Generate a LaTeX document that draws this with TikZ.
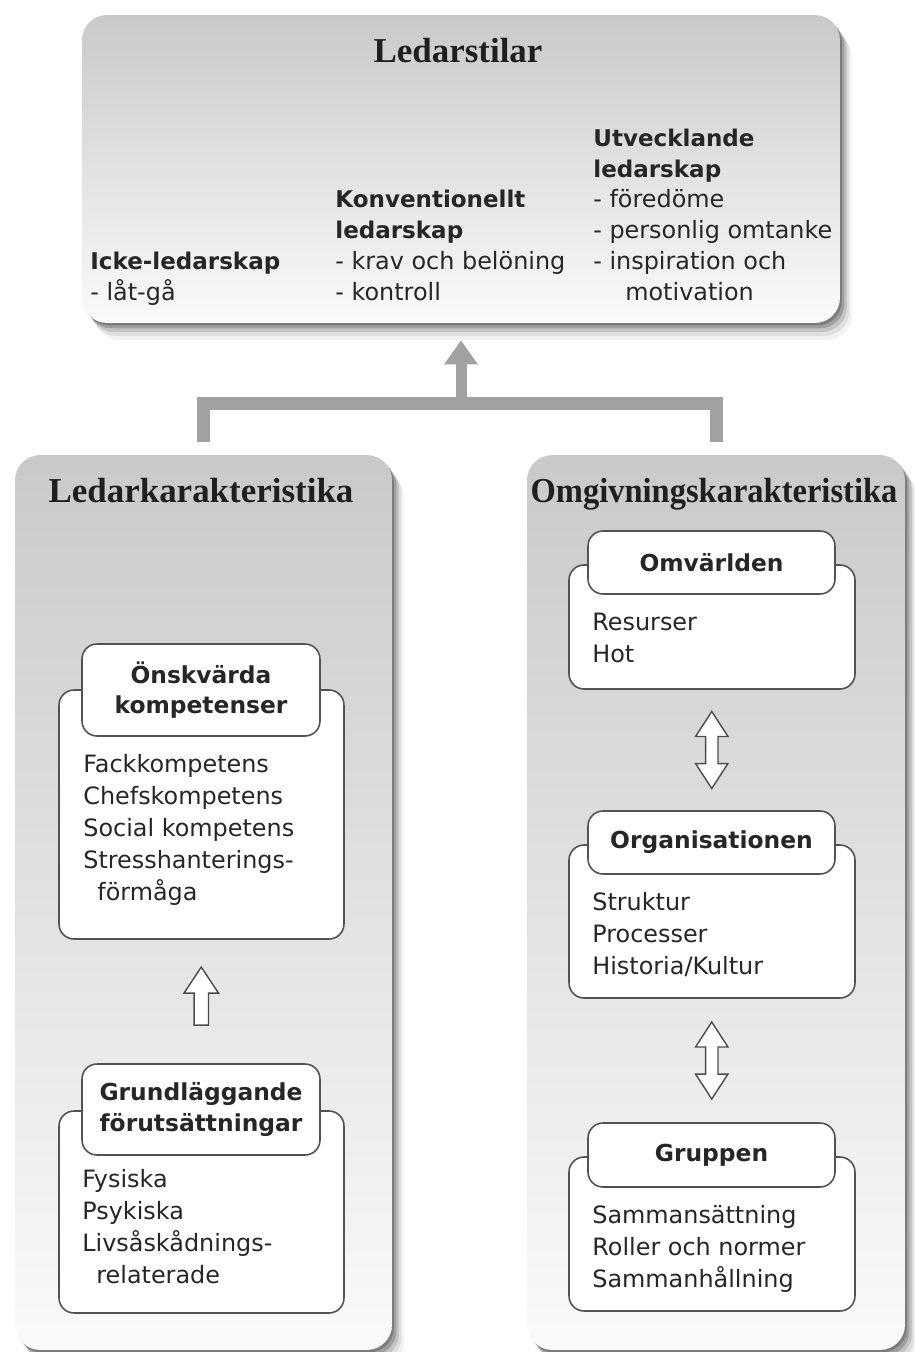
\documentclass[tikz,border=0pt]{standalone}
\usepackage{fontspec}
\setmainfont{Liberation Serif}
\newfontfamily\dejav{DejaVu Sans}
\usetikzlibrary{shapes.arrows,shadows,calc,arrows.meta}

\newcommand\hdfont{\bfseries\fontsize{13.1}{17.5}\selectfont}

\tikzset{
  softshadow/.style={
    general shadow={fill=black,opacity=.22,shadow xshift=0.04cm,shadow yshift=-0.05cm},
    general shadow={fill=black,opacity=.18,shadow xshift=0.09cm,shadow yshift=-0.11cm},
    general shadow={fill=black,opacity=.13,shadow xshift=0.14cm,shadow yshift=-0.18cm},
    general shadow={fill=black,opacity=.08,shadow xshift=0.19cm,shadow yshift=-0.26cm},
    general shadow={fill=black,opacity=.05,shadow xshift=0.24cm,shadow yshift=-0.34cm}},
  panel/.style={softshadow, rounded corners=0.5cm, top color=black!21, bottom color=black!2, inner sep=0},
  ibox/.style={draw=black!68, line width=0.9pt, fill=white, rounded corners=0.3cm, inner sep=0},
  itab/.style={ibox, align=center, text=black!85, font=\dejav\bfseries\fontsize{13.3}{17.2}\selectfont},
  bodytxt/.style={anchor=base west, align=left, inner sep=0, text=black!85, font=\dejav\fontsize{13.6}{18.2}\selectfont},
  toptxt/.style={bodytxt, font=\dejav\fontsize{13.6}{17.5}\selectfont},
  titletxt/.style={anchor=base, inner sep=0, text=black!88, font=\bfseries\fontsize{19.9}{24}\selectfont},
  bracket/.style={draw=black!37, line width=0.26cm},
  hollowup/.style={single arrow, rotate=90, draw=black!70, line width=0.8pt, fill=white,
    inner xsep=0, inner ysep=0.13cm, minimum height=1.16cm,
    single arrow head extend=0.2cm, single arrow tip angle=67},
  hollowdbl/.style={double arrow, rotate=90, draw=black!70, line width=0.8pt, fill=white,
    inner xsep=0, inner ysep=0.11cm, minimum height=1.54cm,
    double arrow head extend=0.2cm, double arrow tip angle=66}
}

\begin{document}
\begin{tikzpicture}[x=0.02cm,y=-0.02cm]
  \useasboundingbox (0,0) rectangle (914,1352);
  \clip (0,0) rectangle (914,1352);

  % top: ledarstilar (text nodes sit on their last baseline)
  \node[panel, minimum width=15.16cm, minimum height=6.16cm] (stilar) at (461,169) {};
  \node[titletxt] at (458,62) {Ledarstilar};
  \node[toptxt] (icke) at (90,300) {{\hdfont Icke-ledarskap}\\- låt-gå};
  \node[toptxt] (konv) at (335,300) {{\hdfont Konventionellt}\\{\hdfont ledarskap}\\- krav och belöning\\- kontroll};
  \node[toptxt] (utv) at (593,300) {{\hdfont Utvecklande}\\{\hdfont ledarskap}\\- föredöme\\- personlig omtanke\\- inspiration och\\\hspace*{0.64cm}motivation};

  % connector up to ledarstilar
  \coordinate (join) at (stilar.south |- 0,403);
  \draw[bracket] ([yshift=0.26cm]203.5,455) |- (join) -| ([yshift=0.26cm]716,455);
  \draw[bracket, line width=0.22cm, -{Triangle[width=0.64cm,length=0.48cm]}] (join) -- ([yshift=-0.34cm]stilar.south);

  % bottom panels
  \node[panel, minimum width=7.54cm, minimum height=17.9cm] (ledkar) at (203.5,902.5) {};
  \node[panel, minimum width=7.56cm, minimum height=17.9cm] (omgkar) at (716,902.5) {};
  \node[titletxt] at (201,502) {Ledarkarakteristika};
  \node[titletxt] at (714,502) {\scalebox{0.93}[1]{Omgivningskarakteristika}};

  % left column
  \node[ibox, minimum width=5.7cm, minimum height=4.98cm] (komp) at (201.5,814.5) {};
  \node[itab, minimum width=4.76cm, minimum height=1.84cm] (komptab) at (201,690) {Önskvärda\\kompetenser};
  \node[bodytxt] (kompl) at (83,900) {Fackkompetens\\Chefskompetens\\Social kompetens\\Stresshanterings-\\\hspace*{0.28cm}förmåga};
  \node[ibox, minimum width=5.7cm, minimum height=4.04cm] (grund) at (201.5,1212) {};
  \node[itab, minimum width=4.76cm, minimum height=1.82cm] (grundtab) at (201,1109.5) {Grundläggande\\förutsättningar};
  \node[bodytxt] (grundl) at (82,1283) {Fysiska\\Psykiska\\Livsåskådnings-\\\hspace*{0.28cm}relaterade};
  \node[hollowup] (upp) at ($(komp.south)!0.5!(grundtab.north)$) {};

  % right column
  \node[ibox, minimum width=5.72cm, minimum height=2.48cm] (omv) at (712,627) {};
  \node[itab, minimum width=4.94cm, minimum height=1.26cm] (omvtab) at (711.5,562.5) {Omvärlden};
  \node[bodytxt] (omvl) at (592,662) {Resurser\\Hot};
  \node[ibox, minimum width=5.72cm, minimum height=3.06cm] (org) at (712,921.5) {};
  \node[itab, minimum width=4.94cm, minimum height=1.26cm] (orgtab) at (711.5,842.5) {Organisationen};
  \node[bodytxt] (orgl) at (592,974) {Struktur\\Processer\\Historia/Kultur};
  \node[ibox, minimum width=5.72cm, minimum height=3.08cm] (grp) at (712,1234) {};
  \node[itab, minimum width=4.94cm, minimum height=1.28cm] (grptab) at (711.5,1155) {Gruppen};
  \node[bodytxt] (grpl) at (592,1287) {Sammansättning\\Roller och normer\\Sammanhållning};
  \node[hollowdbl] (dbl1) at ($(omv.south)!0.5!(orgtab.north)$) {};
  \node[hollowdbl] (dbl2) at ($(org.south)!0.5!(grptab.north)$) {};
\end{tikzpicture}
\end{document}
